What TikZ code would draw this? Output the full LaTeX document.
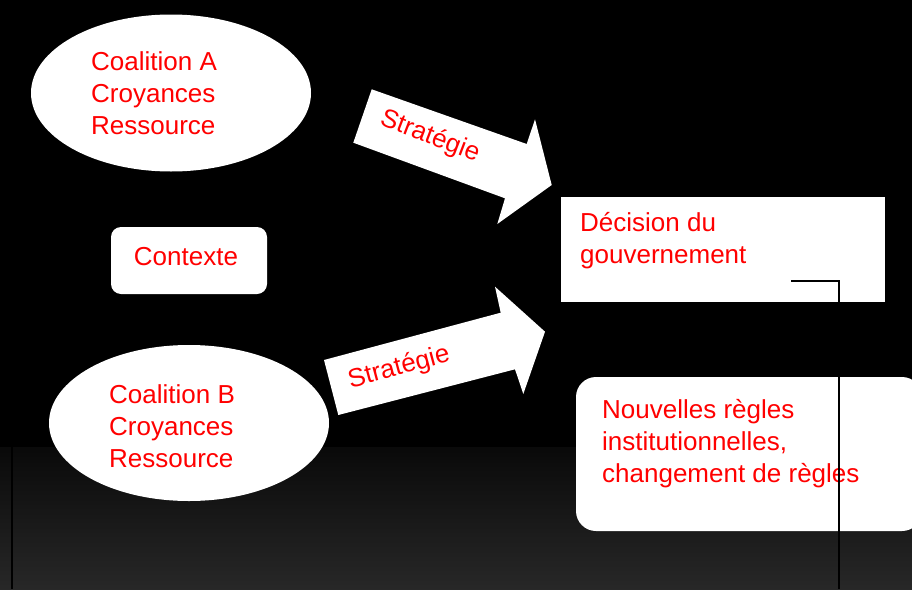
\documentclass[tikz,border=0pt]{standalone}
\usepackage{fontspec}
\setmainfont{Liberation Sans}
\usetikzlibrary{shapes.geometric}
\definecolor{txtred}{RGB}{255,0,0}
\begin{document}
\begin{tikzpicture}[x=1pt,y=-1pt,
  lbl/.style={text=txtred,font=\fontsize{26}{32}\selectfont,inner sep=0pt,align=left},
  shapefill/.style={fill=white,draw=none},
  conn/.style={draw=black,line width=1.5pt}]
\useasboundingbox (0,0) rectangle (912,589);
% background
\fill[black] (0,0) rectangle (912,589);
\foreach \i in {0,...,71} {
  \pgfmathtruncatemacro{\gv}{10+30*\i/71}
  \definecolor{stripcol}{RGB}{\gv,\gv,\gv}
  \fill[stripcol] (0,447+2*\i) rectangle (912,449.5+2*\i);
}

% ellipses
\node[ellipse,shapefill,minimum width=280pt,minimum height=157pt,inner sep=0pt] (ellA) at (171,93) {};
\node[ellipse,shapefill,minimum width=280pt,minimum height=156pt,inner sep=0pt] (ellB) at (189,423) {};

% Contexte box
\node[rectangle,rounded corners=10pt,shapefill,minimum width=156pt,minimum height=67pt,inner sep=0pt] (ctx) at (189,260.5) {};

% Decision box
\node[rectangle,shapefill,minimum width=324pt,minimum height=105pt,inner sep=0pt] (dec) at (723,249.5) {};

% Nouvelles regles box
\node[rectangle,rounded corners=20pt,shapefill,minimum width=346pt,minimum height=154pt,inner sep=0pt] (nouv) at (749,454) {};

% arrows
\fill[white] (371.7,89.3) -- (526.7,144) -- (535,119.3) -- (551.7,185) -- (497.3,224) -- (505,198.3) -- (353.3,142.7) -- cycle;
\fill[white] (324,360) -- (500.7,312.7) -- (495,286.7) -- (545,331.7) -- (523.3,394) -- (515,369.3) -- (338.3,415) -- cycle;

% texts
\node[lbl,anchor=west] (tA) at (91,93) {Coalition A\\Croyances\\Ressource};
\node[lbl,anchor=west] (tB) at (109,426) {Coalition B\\Croyances\\Ressource};
\node[lbl] (tctx) at (186,257) {Contexte};
\node[lbl,anchor=west] (tdec) at (580,241) {Décision du\\gouvernement};
\node[lbl,anchor=west] (tnouv) at (602,444) {Nouvelles règles\\institutionnelles,\\changement de règles};
\node[lbl,rotate=-21] (s1) at (430,137) {Stratégie};
\node[lbl,rotate=15] (s2) at (399,368) {Stratégie};

% lines
\coordinate (c1) at (791,281);
\coordinate (c2) at (839,281);
\coordinate (c3) at (839,589);
\coordinate (l1) at (12,447);
\coordinate (l2) at (12,589);
\draw[conn] (c1) -- (c2) -- (c3);
\draw[conn] (l1) -- (l2);
\end{tikzpicture}
\end{document}
